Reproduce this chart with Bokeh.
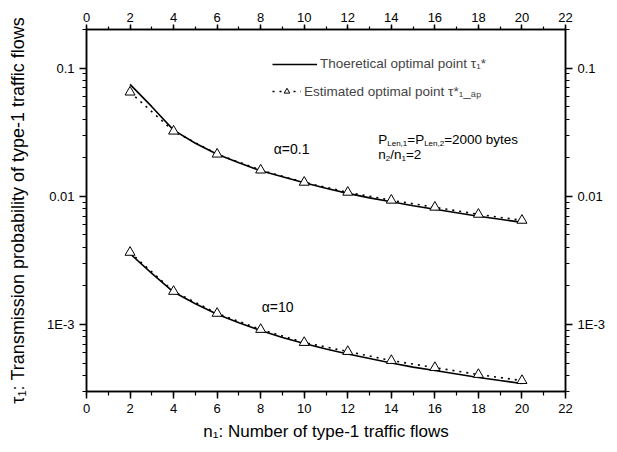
from bokeh.plotting import figure
from bokeh.models import (LinearAxis, LogAxis, Range1d, FixedTicker, Label, Legend,
                          LegendItem)
from bokeh.embed import file_html
from bokeh.resources import INLINE

# ---------------- data ----------------
n_est = [2, 4, 6, 8, 10, 12, 14, 16, 18, 20]
est_alpha01 = [0.0649, 0.0322, 0.0213, 0.0160, 0.01285, 0.01074, 0.00931, 0.00821, 0.00723, 0.00649]
est_alpha10 = [0.00365, 0.00181, 0.00122, 0.000914, 0.000723, 0.000615, 0.000523, 0.000461, 0.000407, 0.000365]

n_th = [2, 3, 4, 5, 6, 7, 8, 9, 10, 11, 12, 13, 14, 15, 16, 17, 18, 19, 20]
th_alpha01 = [0.0746, 0.0500, 0.0328, 0.0259, 0.0213, 0.0183, 0.0158, 0.01419, 0.01273, 0.01155,
              0.01054, 0.00972, 0.00905, 0.00843, 0.00791, 0.00743, 0.00698, 0.00661, 0.00626]
th_alpha10 = [0.00356, 0.00250, 0.00179, 0.00145, 0.00120, 0.00103, 0.000897, 0.000791, 0.000711,
              0.000644, 0.000588, 0.000542, 0.000500, 0.000465, 0.000437, 0.000411, 0.000386,
              0.000365, 0.000346]

x_ticks = [0, 2, 4, 6, 8, 10, 12, 14, 16, 18, 20, 22]
y_ticks = [0.001, 0.01, 0.1]
y_tick_labels = {0.001: "1E-3", 0.01: "0.01", 0.1: "0.1"}
y_minor = [3e-4, 4e-4, 5e-4, 6e-4, 7e-4, 8e-4, 9e-4,
           2e-3, 3e-3, 4e-3, 5e-3, 6e-3, 7e-3, 8e-3, 9e-3,
           2e-2, 3e-2, 4e-2, 5e-2, 6e-2, 7e-2, 8e-2, 9e-2, 0.2]

FONT = "Liberation Sans"

p = figure(width=609, height=444, x_range=Range1d(0, 22), y_range=Range1d(3e-4, 0.2),
           y_axis_type="log", output_backend="svg", toolbar_location=None,
           min_border_left=86, min_border_right=44, min_border_top=29, min_border_bottom=53)
p.xgrid.visible = False
p.ygrid.visible = False
p.outline_line_color = "black"
p.outline_line_width = 1.5
p.background_fill_color = "white"
p.border_fill_color = "white"

# ---------------- curves ----------------
th1 = p.line(n_th, th_alpha01, line_color="black", line_width=1.6)
p.line(n_th, th_alpha10, line_color="black", line_width=1.6)

e1 = p.line(n_est, est_alpha01, line_color="black", line_width=1.6, line_dash="2 5")
p.line(n_est, est_alpha10, line_color="black", line_width=1.6, line_dash="2 5")
m1 = p.scatter(n_est, est_alpha01, marker="triangle", size=10, fill_color="white",
               line_color="black", line_width=1)
p.scatter(n_est, est_alpha10, marker="triangle", size=10, fill_color="white",
          line_color="black", line_width=1)

# ---------------- axes ----------------
def style_axis(ax, tick_out=7, minor_out=4, standoff=5):
    ax.axis_line_color = "black"
    ax.axis_line_width = 1.5
    ax.major_tick_line_color = "black"
    ax.minor_tick_line_color = "black"
    ax.major_tick_line_width = 1.5
    ax.minor_tick_line_width = 1.2
    ax.major_tick_in = 0
    ax.minor_tick_in = 0
    ax.major_tick_out = tick_out
    ax.minor_tick_out = minor_out
    ax.major_label_text_font = FONT
    ax.major_label_text_font_size = "13px"
    ax.major_label_text_color = "black"
    ax.major_label_standoff = standoff
    ax.axis_label_text_font = FONT
    ax.axis_label_text_font_style = "normal"
    ax.axis_label_text_color = "black"

xb = p.xaxis[0]
xb.ticker = FixedTicker(ticks=x_ticks, minor_ticks=list(range(0, 23)))
xb.axis_label = "n\u2081: Number of type-1 traffic flows"
style_axis(xb)
xb.axis_label_text_font_size = "17px"
xb.axis_label_standoff = 6

yl = p.yaxis[0]
yl.ticker = FixedTicker(ticks=y_ticks, minor_ticks=y_minor)
yl.major_label_overrides = y_tick_labels
yl.axis_label = "\u03c4\u2081: Transmission probability of type-1 traffic flows"
style_axis(yl)
yl.axis_label_text_font_size = "18px"
yl.axis_label_standoff = 16

xt = LinearAxis(ticker=FixedTicker(ticks=x_ticks, minor_ticks=list(range(0, 23))))
style_axis(xt, tick_out=5, minor_out=3, standoff=3)
p.add_layout(xt, "above")

yr = LogAxis(ticker=FixedTicker(ticks=y_ticks, minor_ticks=y_minor))
yr.major_label_overrides = y_tick_labels
style_axis(yr)
p.add_layout(yr, "right")

# ---------------- legend (two rows, different sample widths as in the original) ----------------
def make_legend(item, glyph_w, loc):
    lg = Legend(items=[item], location=loc)
    lg.glyph_width = glyph_w
    lg.glyph_height = 14
    lg.label_text_font = FONT
    lg.label_text_font_size = "13.5px"
    lg.label_standoff = 3
    lg.padding = 0
    lg.margin = 0
    lg.border_line_color = None
    lg.background_fill_alpha = 0
    p.add_layout(lg)

make_legend(LegendItem(label="Thoeretical optimal point \u03c4\u2081*", renderers=[th1]),
            45, (186, 320))
make_legend(LegendItem(label="Estimated optimal point \u03c4*\u2081_\u2090\u209a", renderers=[e1, m1]),
            29, (186, 291))

# ---------------- annotations ----------------
def txt(x, y, s, size=13, dx=0, dy=0, align="left"):
    p.add_layout(Label(x=x, y=y, text=s, x_offset=dx, y_offset=dy,
                       text_font=FONT, text_font_size=f"{size}px", text_color="black",
                       text_align=align, text_baseline="middle"))

txt(9.42, 0.0233, "\u03b1=0.1", size=14, align="center")
txt(8.78, 0.00138, "\u03b1=10", size=14, align="center")

# P_Len,1 = P_Len,2 = 2000 bytes, built from segments (Arial metrics)
W = {'P': 667, '=': 584, '2': 556, '0': 556, ' ': 278, 'b': 556, 'y': 500, 't': 278,
     'e': 556, 's': 500, 'L': 556, 'n': 556, ',': 278, '1': 556, '/': 278}

def width(s, size):
    return sum(W.get(c, 556) for c in s) * size / 1000.0

def rich(x, y, segs):
    off = 0.0
    for s, size, dy in segs:
        txt(x, y, s, size=size, dx=off, dy=dy)
        off += width(s, size)

x_pl = 13.4
rich(x_pl, 0.0276, [("P", 13.5, 0), ("Len,1", 8, -4), ("=P", 13.5, 0), ("Len,2", 8, -4),
                    ("=2000 bytes", 13.5, 0)])
rich(x_pl, 0.0211, [("n", 13.5, 0), ("2", 8, -4), ("/n", 13.5, 0), ("1", 8, -4), ("=2", 13.5, 0)])

open("out.html", "w").write(file_html(p, INLINE))
